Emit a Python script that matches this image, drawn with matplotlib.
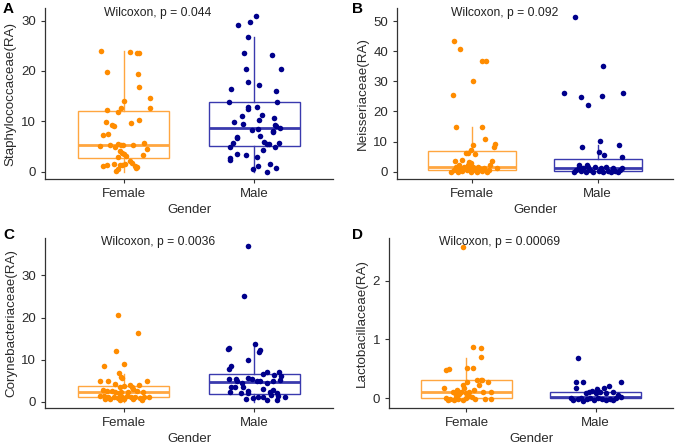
import matplotlib as mpl; mpl.use("Agg")
import matplotlib.pyplot as plt

mpl.rcParams.update({"font.family": ["Liberation Sans", "DejaVu Sans"], "font.size": 9.3,
                     "axes.spines.top": False, "axes.spines.right": False})

ORANGE = "#FF8C00"; NAVY = "#00008B"
ORANGE_BOX = "#FFA640"; NAVY_BOX = "#3A3AAE"
GROUPS = ["Female", "Male"]

# ---- panel A: Staphylococcaceae ----
a_f_dx = [-0.17, 0.05, 0.10, 0.115, -0.13, 0.11, 0.12, 0.005, 0.20, -0.13, -0.02, -0.04, 0.20, -0.135, 0.12,
          -0.085, -0.075, 0.06, -0.12, -0.155, -0.18, -0.10, -0.065, -0.04, -0.02, -0.005, 0.075, 0.16, 0.18,
          -0.03, -0.015, 0.005, 0.015, -0.04, 0.145, 0.05, 0.065, 0.09, -0.155, -0.13, -0.075, -0.025, -0.01,
          0.01, 0.105, 0.095, -0.06, -0.04]
a_f_y = [24.0, 23.8, 23.6, 23.6, 19.8, 19.4, 16.9, 14.1, 14.6, 12.3, 12.7, 11.9, 12.6, 9.9, 10.3,
         9.2, 9.1, 9.6, 7.4, 7.3, 5.0, 5.3, 4.8, 5.4, 5.3, 5.2, 5.2, 5.6, 4.5,
         4.0, 3.6, 3.5, 3.2, 3.0, 3.4, 2.2, 1.7, 1.2, 1.2, 1.25, 1.5, 1.3, 1.3,
         1.5, 1.0, 0.7, 0.1, 0.5]
a_m_dx = [-0.127, -0.033, 0.013, -0.053, -0.076, 0.137, -0.064, 0.204, -0.053, 0.036, -0.18, 0.163, -0.198,
          0.176, -0.046, -0.046, 0.018, -0.097, 0.056, 0.15, -0.153, -0.084, 0.038, 0.158, 0.163, 0.196,
          -0.02, 0.025, -0.13, -0.135, 0.043, 0.14, 0.145, -0.16, 0.076, 0.094, 0.109, 0.191, -0.186, 0.16,
          0.064, -0.135, -0.064, -0.19, -0.19, 0.023, 0.12, 0.025, -0.008, 0.168, 0.094]
a_m_y = [29.2, 29.7, 30.9, 26.7, 23.6, 23.2, 20.4, 20.4, 17.8, 17.3, 16.4, 16.1, 13.8,
         13.9, 12.9, 12.5, 12.9, 11.0, 11.3, 10.6, 9.8, 9.4, 10.2, 9.3, 9.0, 8.6,
         8.2, 8.4, 6.8, 6.6, 7.0, 8.0, 7.8, 5.6, 5.8, 5.5, 5.4, 5.6, 4.8, 4.8,
         4.3, 3.5, 3.3, 2.7, 2.3, 3.0, 1.5, 1.2, 0.5, 0.7, 0.0]

# ---- panel B: Neisseriaceae ----
b_f_dx = [-0.148, -0.097, 0.077, 0.112, 0.003, -0.156, -0.13, 0.077, 0.105, 0.005, 0.184, 0.176, -0.013,
          -0.051, -0.033, 0.018, -0.135, -0.084, 0.158, 0.145, -0.026, -0.013,
          -0.173, -0.148, -0.13, -0.11, -0.097, -0.079, -0.064, -0.046, -0.028, -0.013, 0.005, 0.018,
          0.038, 0.056, 0.074, 0.094, 0.115, 0.133, 0.196, -0.102, -0.038, 0.043]
b_f_y = [43.3, 40.6, 36.7, 36.7, 30.0, 25.6, 14.8, 14.8, 10.9, 8.9, 9.1, 8.1, 7.2,
         6.1, 6.1, 5.9, 3.7, 3.9, 3.6, 2.2, 3.3, 2.8,
         0.0, 0.56, 1.67, 0.0, 1.1, 0.33, 1.67, 0.56, 1.1, 0.0, 1.67, 0.56,
         0.0, 1.33, 0.33, 1.1, 0.0, 0.56, 1.1, 2.2, 2.2, 1.67]
b_m_dx = [-0.179, 0.038, -0.268, -0.133, 0.033, -0.077, 0.204, 0.02, -0.128, 0.166, 0.008, 0.046, 0.191,
          -0.191, -0.171, -0.153, -0.135, -0.115, -0.094, -0.077, -0.059, -0.038, -0.018, 0.008, 0.026,
          0.043, 0.064, 0.084, 0.105, 0.12, 0.14, 0.161, 0.179, 0.196, -0.153, -0.089]
b_m_y = [51.4, 35.0, 26.3, 24.8, 25.0, 22.2, 26.1, 10.3, 8.1, 8.7, 6.4, 5.6, 4.8,
         0.0, 0.56, 1.67, 0.33, 1.1, 0.0, 1.67, 0.56, 0.0, 1.67, 0.33, 1.1,
         0.0, 1.67, 0.33, 0.0, 1.1, 0.33, 0.0, 0.56, 1.1, 2.2, 2.2]

# ---- panel C: Corynebacteriaceae ----
c_f_dx = [-0.043, 0.109, -0.056, -0.15, 0.005, -0.038, -0.02, -0.01, -0.178, -0.122, 0.178, -0.069, -0.025,
          0.0, 0.05, 0.064, 0.115, 0.076, -0.158, -0.127, -0.089, -0.064, -0.038, -0.02, 0.031, 0.102,
          0.148, -0.178, -0.148, -0.115, -0.076, -0.046, -0.013, 0.025, 0.056, 0.089, 0.122, 0.16, 0.196,
          -0.14, -0.102, -0.025, 0.005, 0.076, 0.14]
c_f_y = [20.5, 16.4, 12.1, 8.6, 8.9, 6.9, 5.8, 5.6, 4.9, 4.8, 4.9, 4.2, 3.6,
         3.8, 4.0, 3.6, 4.0, 3.0, 2.8, 2.6, 2.5, 2.4, 2.0, 2.2, 2.4, 2.5,
         2.2, 1.4, 1.4, 1.2, 1.2, 0.8, 1.0, 1.4, 1.0, 1.2, 0.8, 1.0, 1.2,
         0.6, 0.6, 0.4, 0.6, 0.6, 0.5]
c_m_dx = [-0.046, -0.076, -0.204, -0.191, 0.005, 0.038, 0.043, -0.053, -0.198, -0.181, 0.069, 0.094, 0.153,
          0.191, 0.204, -0.191, -0.14, -0.046, -0.02, 0.018, -0.178, -0.148, -0.084, -0.13, -0.097, 0.043,
          0.094, 0.145, 0.196, -0.186, -0.102, -0.046, 0.069, 0.12, 0.145, 0.17, -0.053, 0.183, 0.234,
          0.17, -0.064, -0.008, 0.031, 0.069, 0.094, 0.125]
c_m_y = [36.9, 25.2, 12.5, 12.7, 13.7, 11.7, 12.2, 9.9, 7.8, 8.6, 6.7, 7.1, 6.3,
         7.1, 6.0, 5.4, 5.4, 5.7, 5.3, 4.8, 3.4, 3.4, 3.4, 4.8, 4.4, 4.8,
         4.4, 4.8, 5.1, 2.2, 2.0, 2.0, 3.0, 2.4, 2.8, 2.0, 2.5, 1.4, 1.2,
         0.4, 0.6, 0.8, 1.0, 1.2, 0.4, 1.7]

# ---- panel D: Lactobacillaceae ----
d_f_dx = [-0.025, 0.052, 0.109, 0.112, -0.159, -0.137, 0.005, 0.05, 0.08, 0.112, 0.122, 0.167, 0.005,
          -0.177, -0.03, -0.02, 0.097, -0.107, -0.09, -0.07, -0.057, -0.04, -0.007, 0.017, 0.06, 0.129,
          0.192, -0.157, -0.144, -0.124, -0.095, -0.082, -0.065, -0.025, -0.007, 0.017, 0.042, 0.067,
          0.142, 0.192]
d_f_y = [2.58, 0.875, 0.86, 0.70, 0.48, 0.49, 0.51, 0.52, 0.30, 0.30, 0.30, 0.27, 0.28,
         0.17, 0.22, 0.17, 0.23, 0.11, 0.085, 0.14, 0.07, 0.11, 0.085, 0.10, 0.14, 0.11,
         0.11, 0.0, -0.03, -0.01, -0.03, 0.01, -0.01, -0.03, 0.0, 0.03, 0.01, -0.01,
         -0.01, -0.01]
d_m_dx = [-0.137, -0.154, -0.1, 0.199, 0.104, 0.062, -0.025, 0.012, -0.154, -0.075, -0.05, 0.0, 0.037,
          0.08, 0.137, 0.174, -0.194, -0.174, -0.137, -0.112, -0.095, -0.07, -0.045, -0.012, 0.02, 0.05,
          0.08, 0.112, 0.137, 0.162, 0.199]
d_m_y = [0.69, 0.27, 0.27, 0.28, 0.2, 0.17, 0.125, 0.16, 0.18, 0.085, 0.11, 0.085, 0.11,
         0.085, 0.11, 0.06, 0.0, -0.03, -0.01, 0.0, -0.045, -0.01, 0.0, -0.03, 0.0, -0.01,
         -0.03, -0.01, -0.03, 0.0, 0.01]

# box stats: [whislo, q1, med, q3, whishi] for Female, Male
a_box = [[0, 2.65, 5.24, 12.1, 24.0], [0, 5.04, 8.76, 13.9, 26.7]]
b_box = [[0, 0.56, 1.67, 6.7, 14.8], [0, 0.3, 1.1, 4.1, 8.7]]
c_box = [[0, 1.1, 2.2, 3.8, 6.7], [0, 1.9, 4.6, 6.7, 13.9]]
d_box = [[0, 0.0, 0.097, 0.3, 0.69], [0, 0.0, 0.02, 0.1, 0.19]]

panels = [
    dict(letter="A", ylab="Staphylococcaceae(RA)", p="0.044", box=a_box, pts=[(a_f_dx, a_f_y), (a_m_dx, a_m_y)],
         ylim=(-1.46, 32.5), yticks=[0, 10, 20, 30], ty=31.5, rect=[0.0657, 0.5978, 0.4204, 0.3843]),
    dict(letter="B", ylab="Neisseriaceae(RA)", p="0.092", box=b_box, pts=[(b_f_dx, b_f_y), (b_m_dx, b_m_y)],
         ylim=(-2.44, 54.4), yticks=[0, 10, 20, 30, 40, 50], ty=52.8, rect=[0.5796, 0.5978, 0.4029, 0.3843]),
    dict(letter="C", ylab="Corynebacteriaceae(RA)", p="0.0036", box=c_box, pts=[(c_f_dx, c_f_y), (c_m_dx, c_m_y)],
         ylim=(-1.43, 38.9), yticks=[0, 10, 20, 30], ty=37.9, rect=[0.0657, 0.0838, 0.4204, 0.3813]),
    dict(letter="D", ylab="Lactobacillaceae(RA)", p="0.00069", box=d_box, pts=[(d_f_dx, d_f_y), (d_m_dx, d_m_y)],
         ylim=(-0.17, 2.73), yticks=[0, 1, 2], ty=2.66, rect=[0.5679, 0.0831, 0.4146, 0.382]),
]
letter_pos = {"A": (3, 2), "B": (352, 2), "C": (3, 228), "D": (352, 228)}

fig = plt.figure(figsize=(6.85, 4.45), dpi=100)
for pn in panels:
    ax = fig.add_axes(pn["rect"])
    for i, (stats, (dx, y)) in enumerate(zip(pn["box"], pn["pts"])):
        pos = i + 1
        bc = ORANGE_BOX if i == 0 else NAVY_BOX
        pc = ORANGE if i == 0 else NAVY
        lo, q1, med, q3, hi = stats
        ax.bxp([dict(whislo=lo, q1=q1, med=med, q3=q3, whishi=hi, fliers=[])], positions=[pos], widths=0.7,
               showcaps=False, patch_artist=True,
               boxprops=dict(facecolor="white", edgecolor=bc, linewidth=1.0),
               whiskerprops=dict(color=bc, linewidth=1.0),
               medianprops=dict(color=bc, linewidth=2.0), zorder=2)
        ax.scatter([pos + d for d in dx], y, s=16, color=pc, linewidths=0, zorder=3)
    ax.set_xlim(0.4, 2.6)
    ax.set_ylim(*pn["ylim"])
    ax.set_xticks([1, 2]); ax.set_xticklabels(GROUPS)
    ax.set_yticks(pn["yticks"])
    ax.tick_params(colors="#333333", labelcolor="#2a2a2a", length=3, width=0.8, labelsize=9.5)
    for s in ("left", "bottom"):
        ax.spines[s].set_color("#333333"); ax.spines[s].set_linewidth(0.9)
    ax.set_xlabel("Gender", fontsize=9.5, labelpad=3, color="#2a2a2a")
    ax.set_ylabel(pn["ylab"], fontsize=9.6, labelpad=3, color="#2a2a2a")
    ax.text(1.26, pn["ty"], f"Wilcoxon, p = {pn['p']}", ha="center", va="center", fontsize=8.7, color="#222222")
    lx, ly = letter_pos[pn["letter"]]
    fig.text(lx / 685, 1 - ly / 445, pn["letter"], fontsize=11, fontweight="bold", ha="left", va="top")

fig.savefig("out.png", dpi=100)
